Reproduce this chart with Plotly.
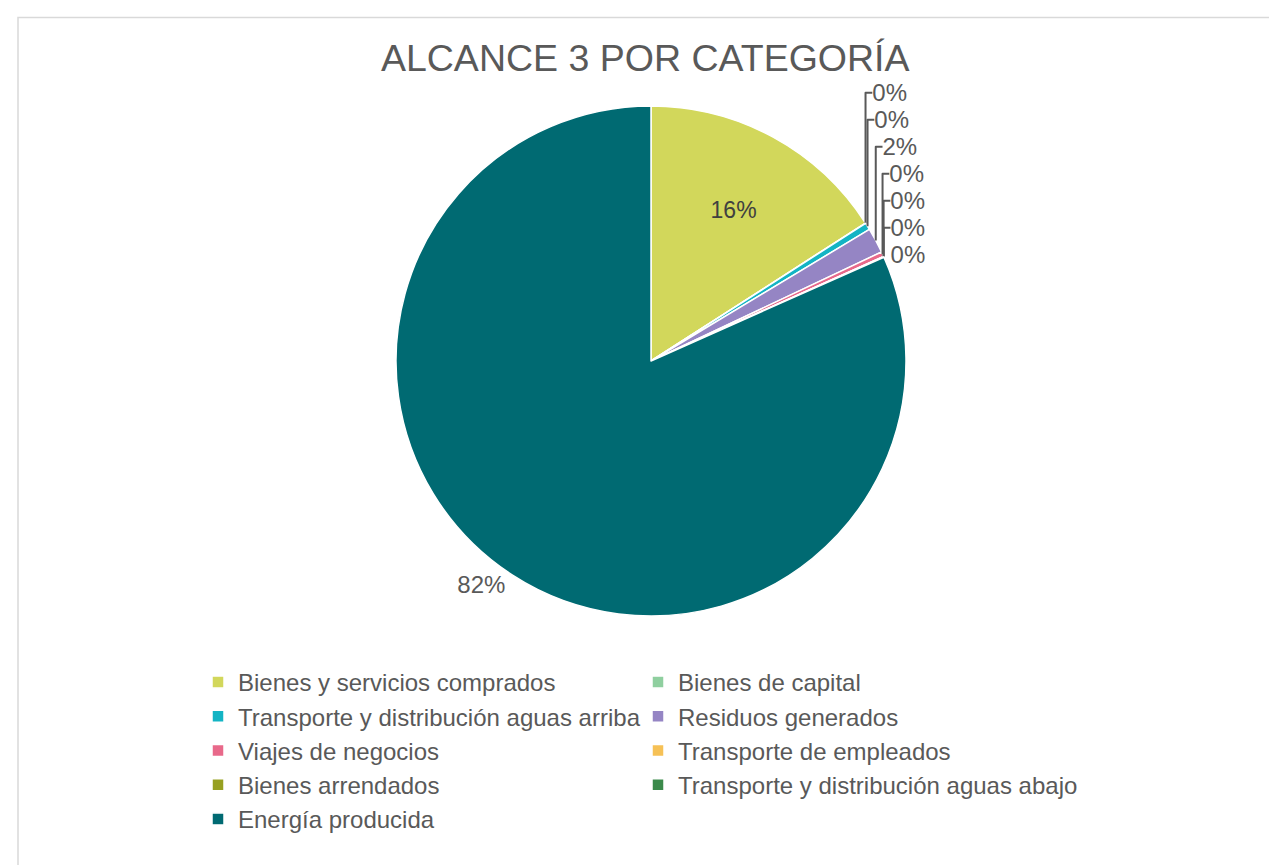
import plotly.graph_objects as go

categories = [
    "Bienes y servicios comprados",
    "Bienes de capital",
    "Transporte y distribución aguas arriba",
    "Residuos generados",
    "Viajes de negocios",
    "Transporte de empleados",
    "Bienes arrendados",
    "Transporte y distribución aguas abajo",
    "Energía producida",
]
values = [15.9, 0.02, 0.45, 1.6, 0.3, 0.02, 0.02, 0.02, 81.67]
colors = ["#d2d75b", "#8fcf9f", "#13b4c4", "#9585c4", "#e8698a",
          "#f6c156", "#97a021", "#3b8a4b", "#006a72"]
text_positions = ["inside"] + ["outside"] * 8

W, H = 1277, 865
MR = 100
PW = W - MR  # paper width in px

fig = go.Figure()
fig.add_trace(go.Pie(
    labels=categories,
    values=values,
    sort=False,
    direction="clockwise",
    rotation=0,
    marker=dict(colors=colors, line=dict(color="white", width=1.5)),
    texttemplate="%{percent:.0%}",
    textposition=text_positions,
    insidetextfont=dict(color="#404040", size=23),
    outsidetextfont=dict(color="#595959", size=24),
    insidetextorientation="horizontal",
    domain=dict(x=[(643 - 450) / PW, (643 + 450) / PW],
                y=[1 - 608 / H, 1 - 98 / H]),
    showlegend=True,
))

fig.update_layout(
    width=W, height=H,
    margin=dict(l=0, r=MR, t=0, b=0, autoexpand=False),
    paper_bgcolor="white",
    font=dict(family="Liberation Sans, Arial, sans-serif", color="#595959"),
    title=dict(text="ALCANCE 3 POR CATEGORÍA", x=0.499, xanchor="center",
               y=1 - 50 / H, yanchor="middle", yref="container",
               font=dict(size=37.5, color="#595959")),
    legend=dict(orientation="h", x=190 / PW, xanchor="left",
                y=1 - 652 / H, yanchor="top",
                entrywidth=395, entrywidthmode="pixels",
                font=dict(size=24, color="#595959"),
                traceorder="normal"),
    shapes=[dict(type="rect", xref="paper", yref="paper",
                 x0=10 / PW, x1=1.2, y0=-0.05, y1=1 - 9.5 / H,
                 line=dict(color="#d9d9d9", width=1.5), layer="below")],
)

fig.write_html("out.html")
